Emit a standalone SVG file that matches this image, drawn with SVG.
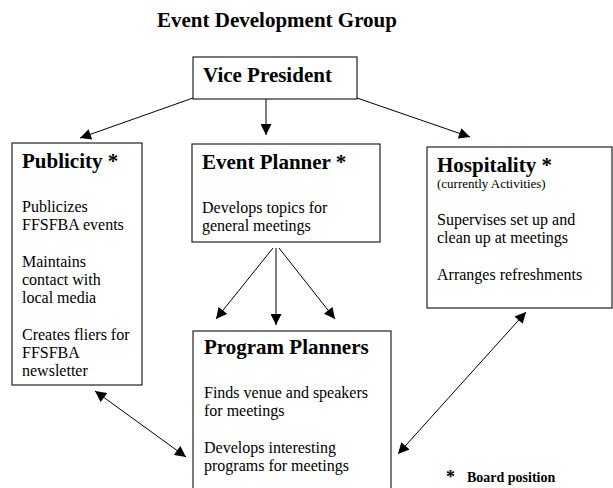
<svg xmlns="http://www.w3.org/2000/svg" width="613" height="488" viewBox="0 0 613 488">
<defs>
<marker id="ah" viewBox="0 0 10 10" refX="10" refY="5" markerWidth="12" markerHeight="11" markerUnits="userSpaceOnUse" orient="auto-start-reverse">
<path d="M0,0 L10,5 L0,10 z" fill="#000"/>
</marker>
<style>
.box{fill:#fff;stroke:#222;stroke-width:1.2}
.hd{font-family:"Liberation Serif","Times New Roman",serif;font-weight:bold;font-size:21px;fill:#000}
.tx{font-family:"Liberation Serif","Times New Roman",serif;font-size:16px;fill:#000}
.sm{font-family:"Liberation Serif","Times New Roman",serif;font-size:13px;fill:#000}
.ln{stroke:#000;stroke-width:1;fill:none}
</style>
</defs>
<rect width="613" height="488" fill="#fff"/>
<text x="157" y="27" class="hd" style="font-size:21px">Event Development Group</text>

<g id="connectors">
<line class="ln" x1="193" y1="98" x2="80" y2="138" marker-end="url(#ah)"/>
<line class="ln" x1="266" y1="99" x2="266" y2="135" marker-end="url(#ah)"/>
<line class="ln" x1="357" y1="98" x2="470" y2="137" marker-end="url(#ah)"/>
<line class="ln" x1="273" y1="248" x2="216" y2="319" marker-end="url(#ah)"/>
<line class="ln" x1="276" y1="248" x2="276" y2="325" marker-end="url(#ah)"/>
<line class="ln" x1="279" y1="248" x2="335" y2="319" marker-end="url(#ah)"/>
<line class="ln" x1="95" y1="391" x2="186" y2="457" marker-start="url(#ah)" marker-end="url(#ah)"/>
<line class="ln" x1="526" y1="312" x2="398" y2="454" marker-start="url(#ah)" marker-end="url(#ah)"/>
</g>

<g id="vice-president">
<rect class="box" x="193" y="57" width="164" height="42"/>
<text x="203" y="82" class="hd">Vice President</text>
</g>

<g id="publicity">
<rect class="box" x="12" y="143" width="130" height="242"/>
<text x="22" y="168" class="hd">Publicity *</text>
<text class="tx"><tspan x="22" y="212">Publicizes</tspan><tspan x="22" y="230">FFSFBA events</tspan><tspan x="22" y="267">Maintains</tspan><tspan x="22" y="285">contact with</tspan><tspan x="22" y="303">local media</tspan><tspan x="22" y="340">Creates fliers for</tspan><tspan x="22" y="358">FFSFBA</tspan><tspan x="22" y="376">newsletter</tspan></text>
</g>

<g id="event-planner">
<rect class="box" x="192" y="144" width="188" height="98"/>
<text x="202" y="169" class="hd">Event Planner *</text>
<text class="tx"><tspan x="202" y="213">Develops topics for</tspan><tspan x="202" y="231">general meetings</tspan></text>
</g>

<g id="hospitality">
<rect class="box" x="427" y="147" width="185" height="161"/>
<text x="437" y="172" class="hd">Hospitality *</text>
<text x="437" y="188" class="sm">(currently Activities)</text>
<text class="tx"><tspan x="437" y="225">Supervises set up and</tspan><tspan x="437" y="243">clean up at meetings</tspan><tspan x="437" y="280">Arranges refreshments</tspan></text>
</g>

<g id="program-planners">
<rect class="box" x="193" y="331" width="198" height="170"/>
<text x="204" y="354" class="hd">Program Planners</text>
<text class="tx"><tspan x="204" y="398">Finds venue and speakers</tspan><tspan x="204" y="416">for meetings</tspan><tspan x="204" y="453">Develops interesting</tspan><tspan x="204" y="471">programs for meetings</tspan></text>
</g>

<g id="legend">
<text x="446" y="483" class="hd" style="font-size:18px">*</text>
<text x="467" y="482" class="hd" style="font-size:14px">Board position</text>
</g>
</svg>
